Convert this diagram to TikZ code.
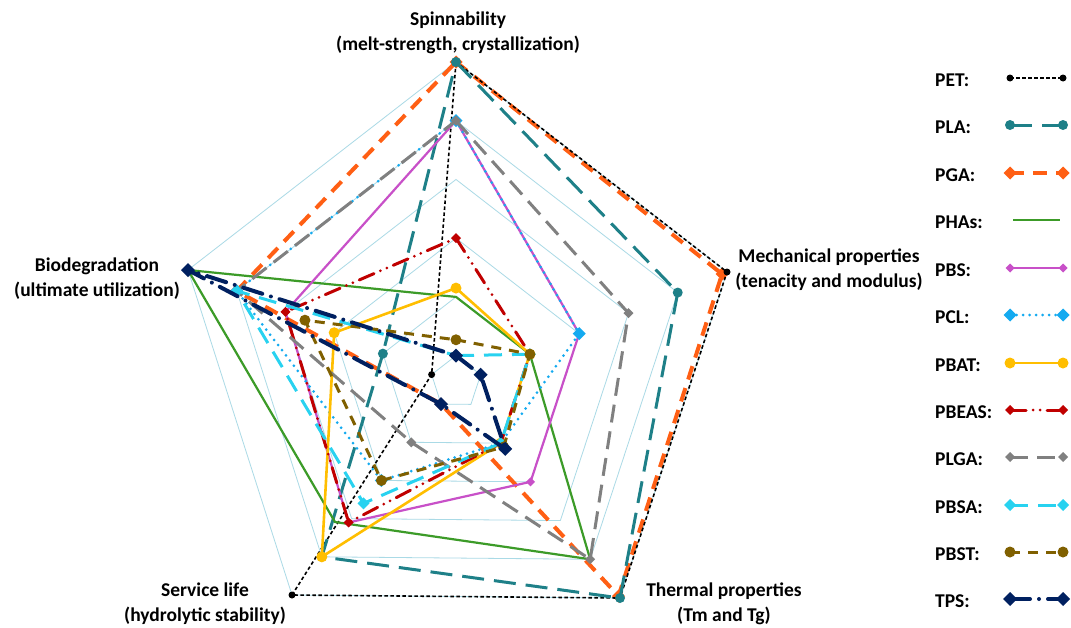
\documentclass[tikz,border=0pt]{standalone}
\usepackage{fontspec}
\setmainfont{Carlito}
\usetikzlibrary{calc}
\definecolor{cPLA}{RGB}{30,128,136}
\definecolor{cPGA}{RGB}{255,95,20}
\definecolor{cPHA}{RGB}{60,155,40}
\definecolor{cPBS}{RGB}{200,80,200}
\definecolor{cPCL}{RGB}{20,170,240}
\definecolor{cPBAT}{RGB}{255,190,0}
\definecolor{cPBEAS}{RGB}{192,0,0}
\definecolor{cPLGA}{RGB}{128,128,128}
\definecolor{cPBSA}{RGB}{40,210,240}
\definecolor{cPBST}{RGB}{128,96,0}
\definecolor{cTPS}{RGB}{0,32,96}
\definecolor{cGrid}{RGB}{170,218,230}
% point on axis #1 at level #2
\newcommand\rp[2]{($(C)!{(#2-0.5)/5.5}!(O#1)$)}
% markers: colour, size, point
\newcommand\mC[3]{\fill[#1] #3 circle[radius=#2];}
\newcommand\mD[3]{\fill[#1] #3 ++(#2,0) -- ++(-#2,-#2) -- ++(-#2,#2) -- ++(#2,#2) -- cycle;}
\newcommand\mN[1]{}
% series: line style, marker, five values
\newcommand\ser[7]{%
  \draw[#1] \rp{0}{#3} -- \rp{1}{#4} -- \rp{2}{#5} -- \rp{3}{#6} -- \rp{4}{#7} -- cycle;
  #2{\rp{0}{#3}}#2{\rp{1}{#4}}#2{\rp{2}{#5}}#2{\rp{3}{#6}}#2{\rp{4}{#7}}}
% legend entry: label, y, line style, marker
\newcommand\leg[4]{%
  \node[lg] (L#1) at (935,#2) {#1:};
  \draw[#3] (1010,{#2-2}) -- (1063,{#2-2});
  #4{(1010,{#2-2})}#4{(1063,{#2-2})}}
\begin{document}
\begin{tikzpicture}[x=1pt,y=-1pt,
  grid/.style={cGrid,line width=0.8pt},
  lab/.style={font=\bfseries\fontsize{19.5}{25}\selectfont,align=center,inner sep=0pt},
  lg/.style={font=\bfseries\fontsize{19.5}{22}\selectfont,anchor=west,inner sep=0pt},
  sPET/.style={black,line width=1.6pt,dash pattern=on 3.5pt off 2.5pt},
  sPLA/.style={cPLA,line width=3pt,dash pattern=on 22pt off 10pt},
  sPGA/.style={cPGA,line width=4pt,dash pattern=on 14pt off 9pt},
  sPHA/.style={cPHA,line width=2.2pt},
  sPBS/.style={cPBS,line width=2.2pt},
  sPCL/.style={cPCL,line width=3pt,dash pattern=on 0pt off 6.5pt,line cap=round},
  sPBAT/.style={cPBAT,line width=2.6pt},
  sPBEAS/.style={cPBEAS,line width=3pt,dash pattern=on 16pt off 7pt on 0pt off 7pt on 0pt off 7pt,line cap=round},
  sPLGA/.style={cPLGA,line width=3pt,dash pattern=on 18pt off 9pt},
  sPBSA/.style={cPBSA,line width=3pt,dash pattern=on 18pt off 10pt},
  sPBST/.style={cPBST,line width=3pt,dash pattern=on 10pt off 8pt},
  sTPS/.style={cTPS,line width=4pt,dash pattern=on 20pt off 9pt on 0pt off 9pt,line cap=round},
]
\useasboundingbox (0,0) rectangle (1071,627);
\fill[white] (0,0) rectangle (1071,627);
\coordinate (C) at (456,385);
\coordinate (O0) at (456,62);
\coordinate (O1) at (727,272);
\coordinate (O2) at (620,598);
\coordinate (O3) at (292,595);
\coordinate (O4) at (188,270);
% grid
\foreach \v in {1,...,6}
  \draw[grid] \rp{0}{\v} -- \rp{1}{\v} -- \rp{2}{\v} -- \rp{3}{\v} -- \rp{4}{\v} -- cycle;
% series
\ser{sPGA}{\mD{cPGA}{6.5}}{6}{5.9}{5.95}{1}{5}
\ser{sPET}{\mC{black}{3.5}}{6}{6}{6}{6}{1}
\ser{sPLA}{\mC{cPLA}{5}}{6}{5}{6}{5}{2}
\draw[sPHA] \rp{0}{2} -- \rp{1}{2} -- \rp{2}{5} -- (335,522) -- \rp{4}{6} -- cycle;
\ser{sPBS}{\mD{cPBS}{4.5}}{5}{3}{3}{4.1}{4}
\ser{sPCL}{\mD{cPCL}{6.5}}{5}{3}{2}{3}{5}
\ser{sPBAT}{\mC{cPBAT}{5.5}}{2.15}{2}{2}{5}{3}
\ser{sPBEAS}{\mD{cPBEAS}{5}}{3}{2}{2}{4.1}{4}
\ser{sPLGA}{\mD{cPLGA}{5}}{5}{4}{5}{2}{5}
\ser{sPBSA}{\mD{cPBSA}{6}}{1}{2}{2}{3.6}{5}
\ser{sPBST}{\mC{cPBST}{5.5}}{1.27}{2}{2.1}{3}{3.6}
\ser{sTPS}{\mD{cTPS}{7}}{1}{1}{2.15}{1}{6}
% axis labels
\node[lab] (spin) at (458,32.5) {Spinnability\\(melt-strength, crystallization)};
\node[lab] (mech) at (829,269.5) {Mechanical properties\\(tenacity and modulus)};
\node[lab] (therm) at (724,604) {Thermal properties\\(Tm and Tg)};
\node[lab] (serv) at (205,604) {Service life\\(hydrolytic stability)};
\node[lab] (bio) at (97,279) {Biodegradation\\(ultimate utilization)};
% legend
\leg{PET}{80}{sPET}{\mC{black}{3.5}}
\leg{PLA}{127}{sPLA}{\mC{cPLA}{5}}
\leg{PGA}{175}{sPGA}{\mD{cPGA}{6.5}}
\node[lg] (LPHAs) at (935,222) {PHAs:};
\draw[sPHA] (1013,220) -- (1060,220);
\leg{PBS}{270}{sPBS}{\mD{cPBS}{4.5}}
\leg{PCL}{317}{sPCL}{\mD{cPCL}{6.5}}
\leg{PBAT}{365}{sPBAT}{\mC{cPBAT}{5.5}}
\leg{PBEAS}{412}{sPBEAS}{\mD{cPBEAS}{5}}
\leg{PLGA}{459}{sPLGA}{\mD{cPLGA}{5}}
\leg{PBSA}{507}{sPBSA}{\mD{cPBSA}{6}}
\leg{PBST}{554}{sPBST}{\mC{cPBST}{5.5}}
\leg{TPS}{601}{sTPS}{\mD{cTPS}{7}}
\end{tikzpicture}
\end{document}
